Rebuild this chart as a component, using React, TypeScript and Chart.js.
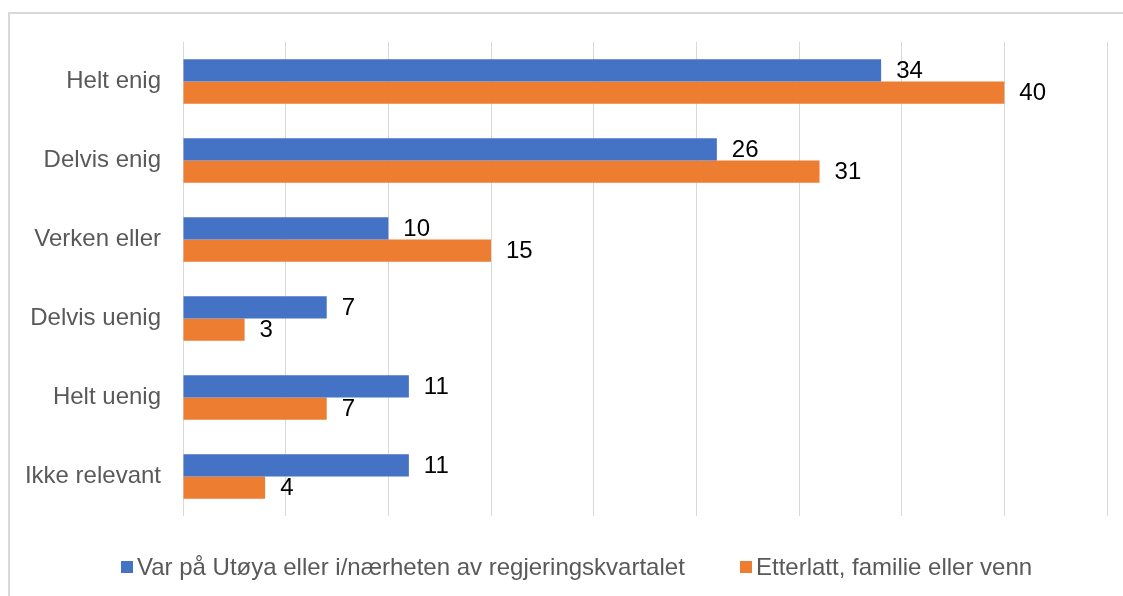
import React, { useEffect, useRef } from "react";
import { Chart, registerables } from "chart.js";

Chart.register(...registerables);

const categories = ["Helt enig", "Delvis enig", "Verken eller", "Delvis uenig", "Helt uenig", "Ikke relevant"];
const seriesNames = ["Var på Utøya eller i/nærheten av regjeringskvartalet", "Etterlatt, familie eller venn"];
const seriesA = [34, 26, 10, 7, 11, 11];
const seriesB = [40, 31, 15, 3, 7, 4];
const colors = ["#4472C4", "#ED7D31"];

const W = 1123;
const H = 596;
const FONT = "'Liberation Sans', Arial, sans-serif";

export default function App() {
  const ref = useRef<HTMLCanvasElement | null>(null);

  useEffect(() => {
    if (!ref.current) return;

    const framePlugin = {
      id: "frame",
      beforeDraw(chart: any) {
        const ctx = chart.ctx;
        ctx.save();
        ctx.fillStyle = "#ffffff";
        ctx.fillRect(0, 0, W, H);
        ctx.fillStyle = "#d9d9d9";
        ctx.fillRect(8, 12, W - 8, 2);
        ctx.fillRect(8, 12, 2, H - 12);
        ctx.restore();
      },
    };

    const labelPlugin = {
      id: "valueLabels",
      afterDatasetsDraw(chart: any) {
        const ctx = chart.ctx;
        ctx.save();
        ctx.font = `24px ${FONT}`;
        ctx.fillStyle = "#000000";
        ctx.textAlign = "left";
        ctx.textBaseline = "middle";
        chart.data.datasets.forEach((ds: any, i: number) => {
          const meta = chart.getDatasetMeta(i);
          meta.data.forEach((bar: any, j: number) => {
            ctx.fillText(String(ds.data[j]), bar.x + 15, bar.y + 1);
          });
        });
        ctx.restore();
      },
    };

    const legendPlugin = {
      id: "customLegend",
      afterDraw(chart: any) {
        const ctx = chart.ctx;
        ctx.save();
        ctx.font = `24px ${FONT}`;
        ctx.textAlign = "left";
        ctx.textBaseline = "middle";
        const boxX = [121, 740];
        chart.data.datasets.forEach((ds: any, i: number) => {
          ctx.fillStyle = ds.backgroundColor;
          ctx.fillRect(boxX[i], 561, 12, 12);
          ctx.fillStyle = "#595959";
          ctx.fillText(ds.label, boxX[i] + 16, 568);
        });
        ctx.restore();
      },
    };

    const chart = new Chart(ref.current, {
      type: "bar",
      data: {
        labels: categories,
        datasets: [
          { label: seriesNames[0], data: seriesA, backgroundColor: colors[0], categoryPercentage: 0.565, barPercentage: 1 },
          { label: seriesNames[1], data: seriesB, backgroundColor: colors[1], categoryPercentage: 0.565, barPercentage: 1 },
        ],
      },
      options: {
        indexAxis: "y",
        responsive: false,
        animation: false,
        devicePixelRatio: 1,
        layout: { padding: { left: 0, right: 16, top: 42, bottom: 80 } },
        plugins: { legend: { display: false }, tooltip: { enabled: false } },
        scales: {
          x: {
            min: 0,
            max: 45,
            ticks: { display: false, stepSize: 5 },
            grid: { color: "#d9d9d9", lineWidth: 1, drawTicks: false },
            border: { display: false },
            afterFit(scale: any) {
              scale.height = 0;
            },
          },
          y: {
            grid: { display: false, drawTicks: false },
            border: { display: false },
            ticks: { color: "#595959", font: { family: FONT, size: 24 }, padding: 22 },
            afterFit(scale: any) {
              scale.width = 183;
            },
          },
        },
      },
      plugins: [framePlugin, labelPlugin, legendPlugin],
    } as any);

    return () => chart.destroy();
  }, []);

  return (
    <div style={{ position: "fixed", left: 0, top: 0, width: W, height: H, background: "#fff" }}>
      <canvas ref={ref} width={W} height={H} style={{ display: "block", width: W, height: H }} />
    </div>
  );
}
